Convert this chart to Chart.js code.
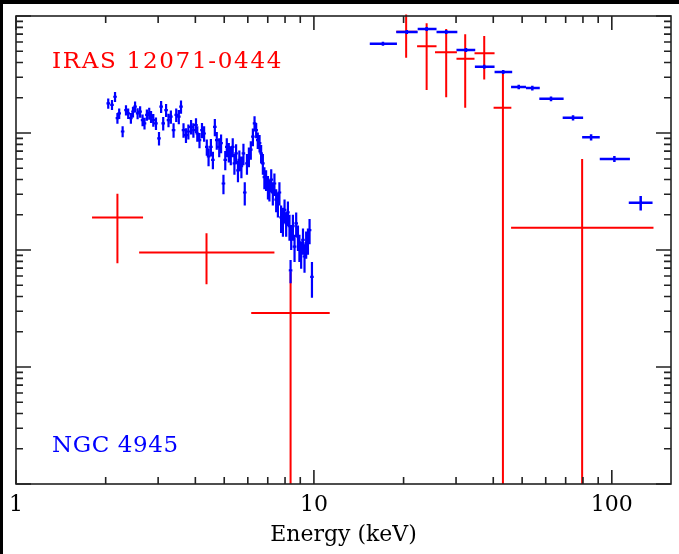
<!DOCTYPE html>
<html>
<head>
<meta charset="utf-8">
<script src="https://cdn.jsdelivr.net/npm/chart.js@4.4.1/dist/chart.umd.min.js"></script>
<style>
  html, body { margin: 0; padding: 0; background: #fff; }
  #wrap { width: 679px; height: 554px; }
</style>
</head>
<body>
<div id="wrap"><canvas id="spec" width="679" height="554"></canvas></div>
<script>
// NGC 4945, soft band spectrum: energy (keV), flux, 1-sigma error
const softE = [2.04, 2.10, 2.15, 2.19, 2.22, 2.28, 2.34, 2.38, 2.43, 2.47,
  2.51, 2.56, 2.61, 2.66, 2.70, 2.75, 2.80, 2.84, 2.89, 2.95,
  3.02, 3.07, 3.12, 3.19, 3.25, 3.31, 3.38, 3.45, 3.52, 3.58,
  3.65, 3.72, 3.79, 3.87, 3.94, 4.02, 4.06, 4.13, 4.21, 4.28,
  4.37, 4.43, 4.51, 4.58, 4.65, 4.72, 4.81, 4.88, 4.97, 5.04,
  5.10, 5.18, 5.26, 5.34, 5.41, 5.48, 5.56, 5.62, 5.71, 5.80,
  5.86, 5.96, 6.05, 6.14, 6.24, 6.32, 6.40, 6.48, 6.57, 6.65,
  6.74, 6.82, 6.91, 7.01, 7.09, 7.19, 7.28, 7.37, 7.47, 7.57,
  7.66, 7.76, 7.87, 7.97, 8.07, 8.18, 8.28, 8.35, 8.39, 8.50,
  8.61, 8.72, 8.84, 8.94, 9.06, 9.19, 9.30, 9.42, 9.55, 9.67, 9.85];
const softF = [0.179, 0.174, 0.204, 0.134, 0.147, 0.103, 0.157, 0.147, 0.134, 0.152,
  0.168, 0.147, 0.152, 0.129, 0.121, 0.143, 0.147, 0.138, 0.129, 0.121,
  0.090, 0.168, 0.121, 0.157, 0.129, 0.138, 0.106, 0.143, 0.138, 0.168,
  0.106, 0.096, 0.103, 0.113, 0.106, 0.117, 0.099, 0.087, 0.106, 0.099,
  0.076, 0.063, 0.076, 0.059, 0.113, 0.087, 0.076, 0.082, 0.037, 0.059,
  0.076, 0.069, 0.065, 0.076, 0.055, 0.067, 0.048, 0.059, 0.052, 0.067,
  0.031, 0.055, 0.063, 0.072, 0.093, 0.121, 0.106, 0.087, 0.082, 0.067,
  0.055, 0.042, 0.040, 0.035, 0.033, 0.040, 0.031, 0.037, 0.027, 0.025,
  0.031, 0.019, 0.018, 0.022, 0.017, 0.021, 0.016, 0.0067, 0.013, 0.016,
  0.0107, 0.0169, 0.0130, 0.0107, 0.0094, 0.0122, 0.0088, 0.0114, 0.0122, 0.0148, 0.0059];
const softErr = [0.018, 0.017, 0.020, 0.014, 0.015, 0.011, 0.016, 0.015, 0.014, 0.016,
  0.018, 0.016, 0.017, 0.015, 0.014, 0.016, 0.017, 0.016, 0.016, 0.015,
  0.012, 0.020, 0.016, 0.020, 0.017, 0.018, 0.015, 0.019, 0.019, 0.022,
  0.015, 0.014, 0.015, 0.016, 0.015, 0.017, 0.015, 0.013, 0.016, 0.015,
  0.012, 0.011, 0.013, 0.010, 0.019, 0.015, 0.014, 0.015, 0.007, 0.011,
  0.014, 0.013, 0.012, 0.014, 0.011, 0.013, 0.010, 0.012, 0.011, 0.014,
  0.007, 0.011, 0.012, 0.013, 0.016, 0.018, 0.016, 0.014, 0.014, 0.012,
  0.011, 0.009, 0.008, 0.008, 0.007, 0.009, 0.007, 0.008, 0.006, 0.006,
  0.007, 0.005, 0.005, 0.005, 0.004, 0.005, 0.004, 0.0015, 0.003, 0.004,
  0.0028, 0.0040, 0.0032, 0.0028, 0.0025, 0.0031, 0.0024, 0.0030, 0.0031, 0.0036, 0.0020];

// NGC 4945, hard band: bin centre / edges (keV), flux, error
const hardE  = [17.05, 20.5, 23.9, 27.8, 32.4, 37.3, 43.2, 48.7, 54.1, 62.5, 74.1, 85.2, 102, 125];
const hardLo = [15.4, 18.9, 22.3, 25.8, 30.1, 34.7, 40.4, 45.9, 51.5, 57.1, 68.4, 79.5, 91.1, 114];
const hardHi = [19.0, 22.3, 25.8, 30.3, 34.8, 40.4, 46.3, 51.5, 57.3, 68.9, 80.1, 91.1, 115, 137];
const hardF  = [0.580, 0.730, 0.774, 0.730, 0.512, 0.369, 0.332, 0.247, 0.242, 0.196, 0.135, 0.0919, 0.060, 0.0254];
const hardErr = [0.023, 0.029, 0.031, 0.029, 0.020, 0.015, 0.013, 0.011, 0.011, 0.009, 0.007, 0.0055, 0.0036, 0.0036];

// IRAS 12071-0444
const irasE  = [2.19, 4.36, 8.35, 20.4, 23.9, 27.8, 32.2, 37.3, 43.1, 79.5];
const irasLo = [1.80, 2.59, 6.16, 18.9, 22.2, 25.5, 30.1, 34.6, 40.1, 45.9];
const irasHi = [2.67, 7.37, 11.3, 22.2, 25.8, 30.2, 34.6, 40.4, 46.0, 138];
const irasF  = [0.0190, 0.0095, 0.0029, 0.734, 0.551, 0.489, 0.431, 0.480, 0.164, 0.0155];
const irasErr = [0.0113, 0.0044, 0.0036, 0.294, 0.318, 0.287, 0.267, 0.193, 0.182, 0.0445];

const xMajor = [1, 10, 100];

const RED = '#ff0000';
const BLUE = '#0000ff';
const SERIF = "'DejaVu Serif', 'Liberation Serif', serif";

function points(e, f, err, lo, hi) {
  return e.map((v, i) => ({
    x: v, y: f[i], err: err[i],
    xLo: lo ? lo[i] : null, xHi: hi ? hi[i] : null
  }));
}

function logTicks(min, max) {
  const out = [];
  for (let d = Math.floor(Math.log10(min)); d <= Math.ceil(Math.log10(max)); d++) {
    for (let m = 1; m <= 9; m++) {
      const v = m * Math.pow(10, d);
      if (v >= min * 0.999 && v <= max * 1.001) out.push({ v, major: m === 1 });
    }
  }
  return out;
}

// error-bar crosses, frame with inward ticks, labels
const crossPlugin = {
  id: 'crosses',
  beforeDraw(chart) {
    const ctx = chart.ctx;
    ctx.save();
    ctx.fillStyle = '#fff';
    ctx.fillRect(0, 0, chart.width, chart.height);
    ctx.fillStyle = '#000';
    ctx.fillRect(0, 0, chart.width, 4);
    ctx.fillRect(0, 0, 3, chart.height);
    ctx.restore();
  },
  afterDatasetsDraw(chart) {
    const { ctx, chartArea: a, scales: { x, y } } = chart;
    ctx.save();
    ctx.beginPath();
    ctx.rect(a.left, a.top - 3, a.right - a.left, a.bottom - a.top + 3);
    ctx.clip();
    chart.data.datasets.forEach(ds => {
      ctx.strokeStyle = ds.borderColor;
      ctx.lineWidth = ds.barWidth;
      ctx.beginPath();
      ds.data.forEach(p => {
        const cx = x.getPixelForValue(p.x);
        const cy = y.getPixelForValue(p.y);
        const x0 = p.xLo ? x.getPixelForValue(p.xLo) : cx - 1.8;
        const x1 = p.xHi ? x.getPixelForValue(p.xHi) : cx + 1.8;
        const lo = p.y - p.err;
        const y0 = lo > 0 ? y.getPixelForValue(lo) : a.bottom + 4;
        const y1 = y.getPixelForValue(p.y + p.err);
        ctx.moveTo(x0, cy); ctx.lineTo(x1, cy);
        ctx.moveTo(cx, y0); ctx.lineTo(cx, y1);
      });
      ctx.stroke();
    });
    ctx.restore();

    // frame
    ctx.save();
    ctx.strokeStyle = '#222';
    ctx.lineWidth = 1.6;
    ctx.strokeRect(a.left, a.top, a.right - a.left, a.bottom - a.top);
    ctx.beginPath();
    logTicks(x.min, x.max).forEach(t => {
      const px = x.getPixelForValue(t.v);
      const len = t.major ? 14 : 7;
      ctx.moveTo(px, a.bottom); ctx.lineTo(px, a.bottom - len);
      ctx.moveTo(px, a.top); ctx.lineTo(px, a.top + len);
    });
    logTicks(y.min, y.max).forEach(t => {
      const py = y.getPixelForValue(t.v);
      const len = t.major ? 15 : 7;
      ctx.moveTo(a.left, py); ctx.lineTo(a.left + len, py);
      ctx.moveTo(a.right, py); ctx.lineTo(a.right - len, py);
    });
    ctx.stroke();

    ctx.font = '23px ' + SERIF;
    ctx.textBaseline = 'alphabetic';
    ctx.fillStyle = RED;
    ctx.letterSpacing = '1.7px';
    ctx.fillText('IRAS 12071-0444', a.left + 36, a.top + 52);
    ctx.fillStyle = BLUE;
    ctx.letterSpacing = '0.6px';
    ctx.fillText('NGC 4945', a.left + 36, a.bottom - 32);
    ctx.restore();
  }
};

new Chart(document.getElementById('spec'), {
  type: 'scatter',
  data: {
    datasets: [
      { label: 'IRAS 12071-0444', data: points(irasE, irasF, irasErr, irasLo, irasHi), borderColor: RED, barWidth: 2, pointRadius: 0 },
      { label: 'NGC 4945', data: points(softE, softF, softErr), borderColor: BLUE, barWidth: 2.2, pointRadius: 0 },
      { label: 'NGC 4945 hard', data: points(hardE, hardF, hardErr, hardLo, hardHi), borderColor: BLUE, barWidth: 2.5, pointRadius: 0 }
    ]
  },
  options: {
    responsive: false,
    animation: false,
    devicePixelRatio: 1,
    layout: { padding: { top: 16, left: 16, right: 8, bottom: 0 } },
    plugins: { legend: { display: false }, tooltip: { enabled: false } },
    scales: {
      x: {
        type: 'logarithmic',
        min: 1,
        max: 158,
        grid: { display: false, drawTicks: false },
        border: { display: false },
        afterFit(scale) { scale.height = 70; },
        ticks: {
          autoSkip: false,
          maxRotation: 0,
          padding: 8,
          color: '#000',
          font: { family: SERIF, size: 22 },
          callback: v => xMajor.includes(v) ? String(v) : ''
        },
        title: {
          display: true,
          text: 'Energy (keV)',
          color: '#000',
          font: { family: SERIF, size: 22 },
          padding: { top: 0, bottom: 6 }
        }
      },
      y: {
        type: 'logarithmic',
        min: 1e-4,
        max: 1,
        display: false
      }
    }
  },
  plugins: [crossPlugin]
});
</script>
</body>
</html>
